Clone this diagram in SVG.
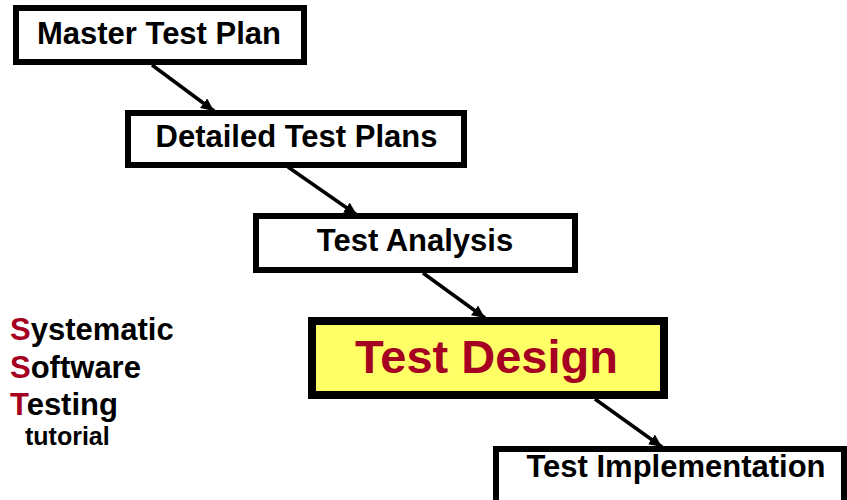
<svg xmlns="http://www.w3.org/2000/svg" width="847" height="500" viewBox="0 0 847 500">
  <defs>
    <marker id="arr" markerUnits="userSpaceOnUse" markerWidth="14" markerHeight="12" refX="13" refY="6" orient="auto">
      <path d="M0,0 L13,6 L0,12 Z" fill="#000"/>
    </marker>
    <style>
      .box { fill: #fff; stroke: #000; stroke-width: 6; }
      .lbl { font-family: "Liberation Sans", Arial, sans-serif; font-weight: bold; font-size: 31px; fill: #000; text-anchor: middle; }
      .side { font-family: "Liberation Sans", Arial, sans-serif; font-weight: bold; font-size: 31px; fill: #000; }
      .red { fill: #A50021; }
      .conn { stroke: #000; stroke-width: 3.5; fill: none; marker-end: url(#arr); }
    </style>
  </defs>
  <rect width="847" height="500" fill="#fff"/>

  <g id="connectors">
    <line class="conn" x1="152" y1="65" x2="214" y2="111"/>
    <line class="conn" x1="288" y1="167" x2="357" y2="215"/>
    <line class="conn" x1="423" y1="273" x2="485" y2="318"/>
    <line class="conn" x1="595" y1="399" x2="662" y2="447"/>
  </g>

  <g id="master-test-plan">
    <rect class="box" x="16" y="8" width="288" height="54"/>
    <text class="lbl" x="159" y="44">Master Test Plan</text>
  </g>

  <g id="detailed-test-plans">
    <rect class="box" x="128" y="113" width="336" height="52"/>
    <text class="lbl" x="296.5" y="147">Detailed Test Plans</text>
  </g>

  <g id="test-analysis">
    <rect class="box" x="256" y="216" width="319" height="54"/>
    <text class="lbl" x="415" y="251">Test Analysis</text>
  </g>

  <g id="test-design">
    <rect x="312" y="321" width="352" height="74" fill="#FFFF66" stroke="#000" stroke-width="8"/>
    <text class="lbl" x="486.5" y="373" style="font-size:47px;fill:#A50021">Test Design</text>
  </g>

  <g id="test-implementation">
    <rect class="box" x="496" y="449" width="348" height="80"/>
    <text class="lbl" x="676" y="477">Test Implementation</text>
  </g>

  <g id="sst-title">
    <text class="side" x="10" y="340"><tspan class="red">S</tspan>ystematic</text>
    <text class="side" x="10" y="377.5"><tspan class="red">S</tspan>oftware</text>
    <text class="side" x="10" y="415"><tspan class="red">T</tspan>esting</text>
    <text class="side" x="25" y="445" style="font-size:25px">tutorial</text>
  </g>
</svg>
